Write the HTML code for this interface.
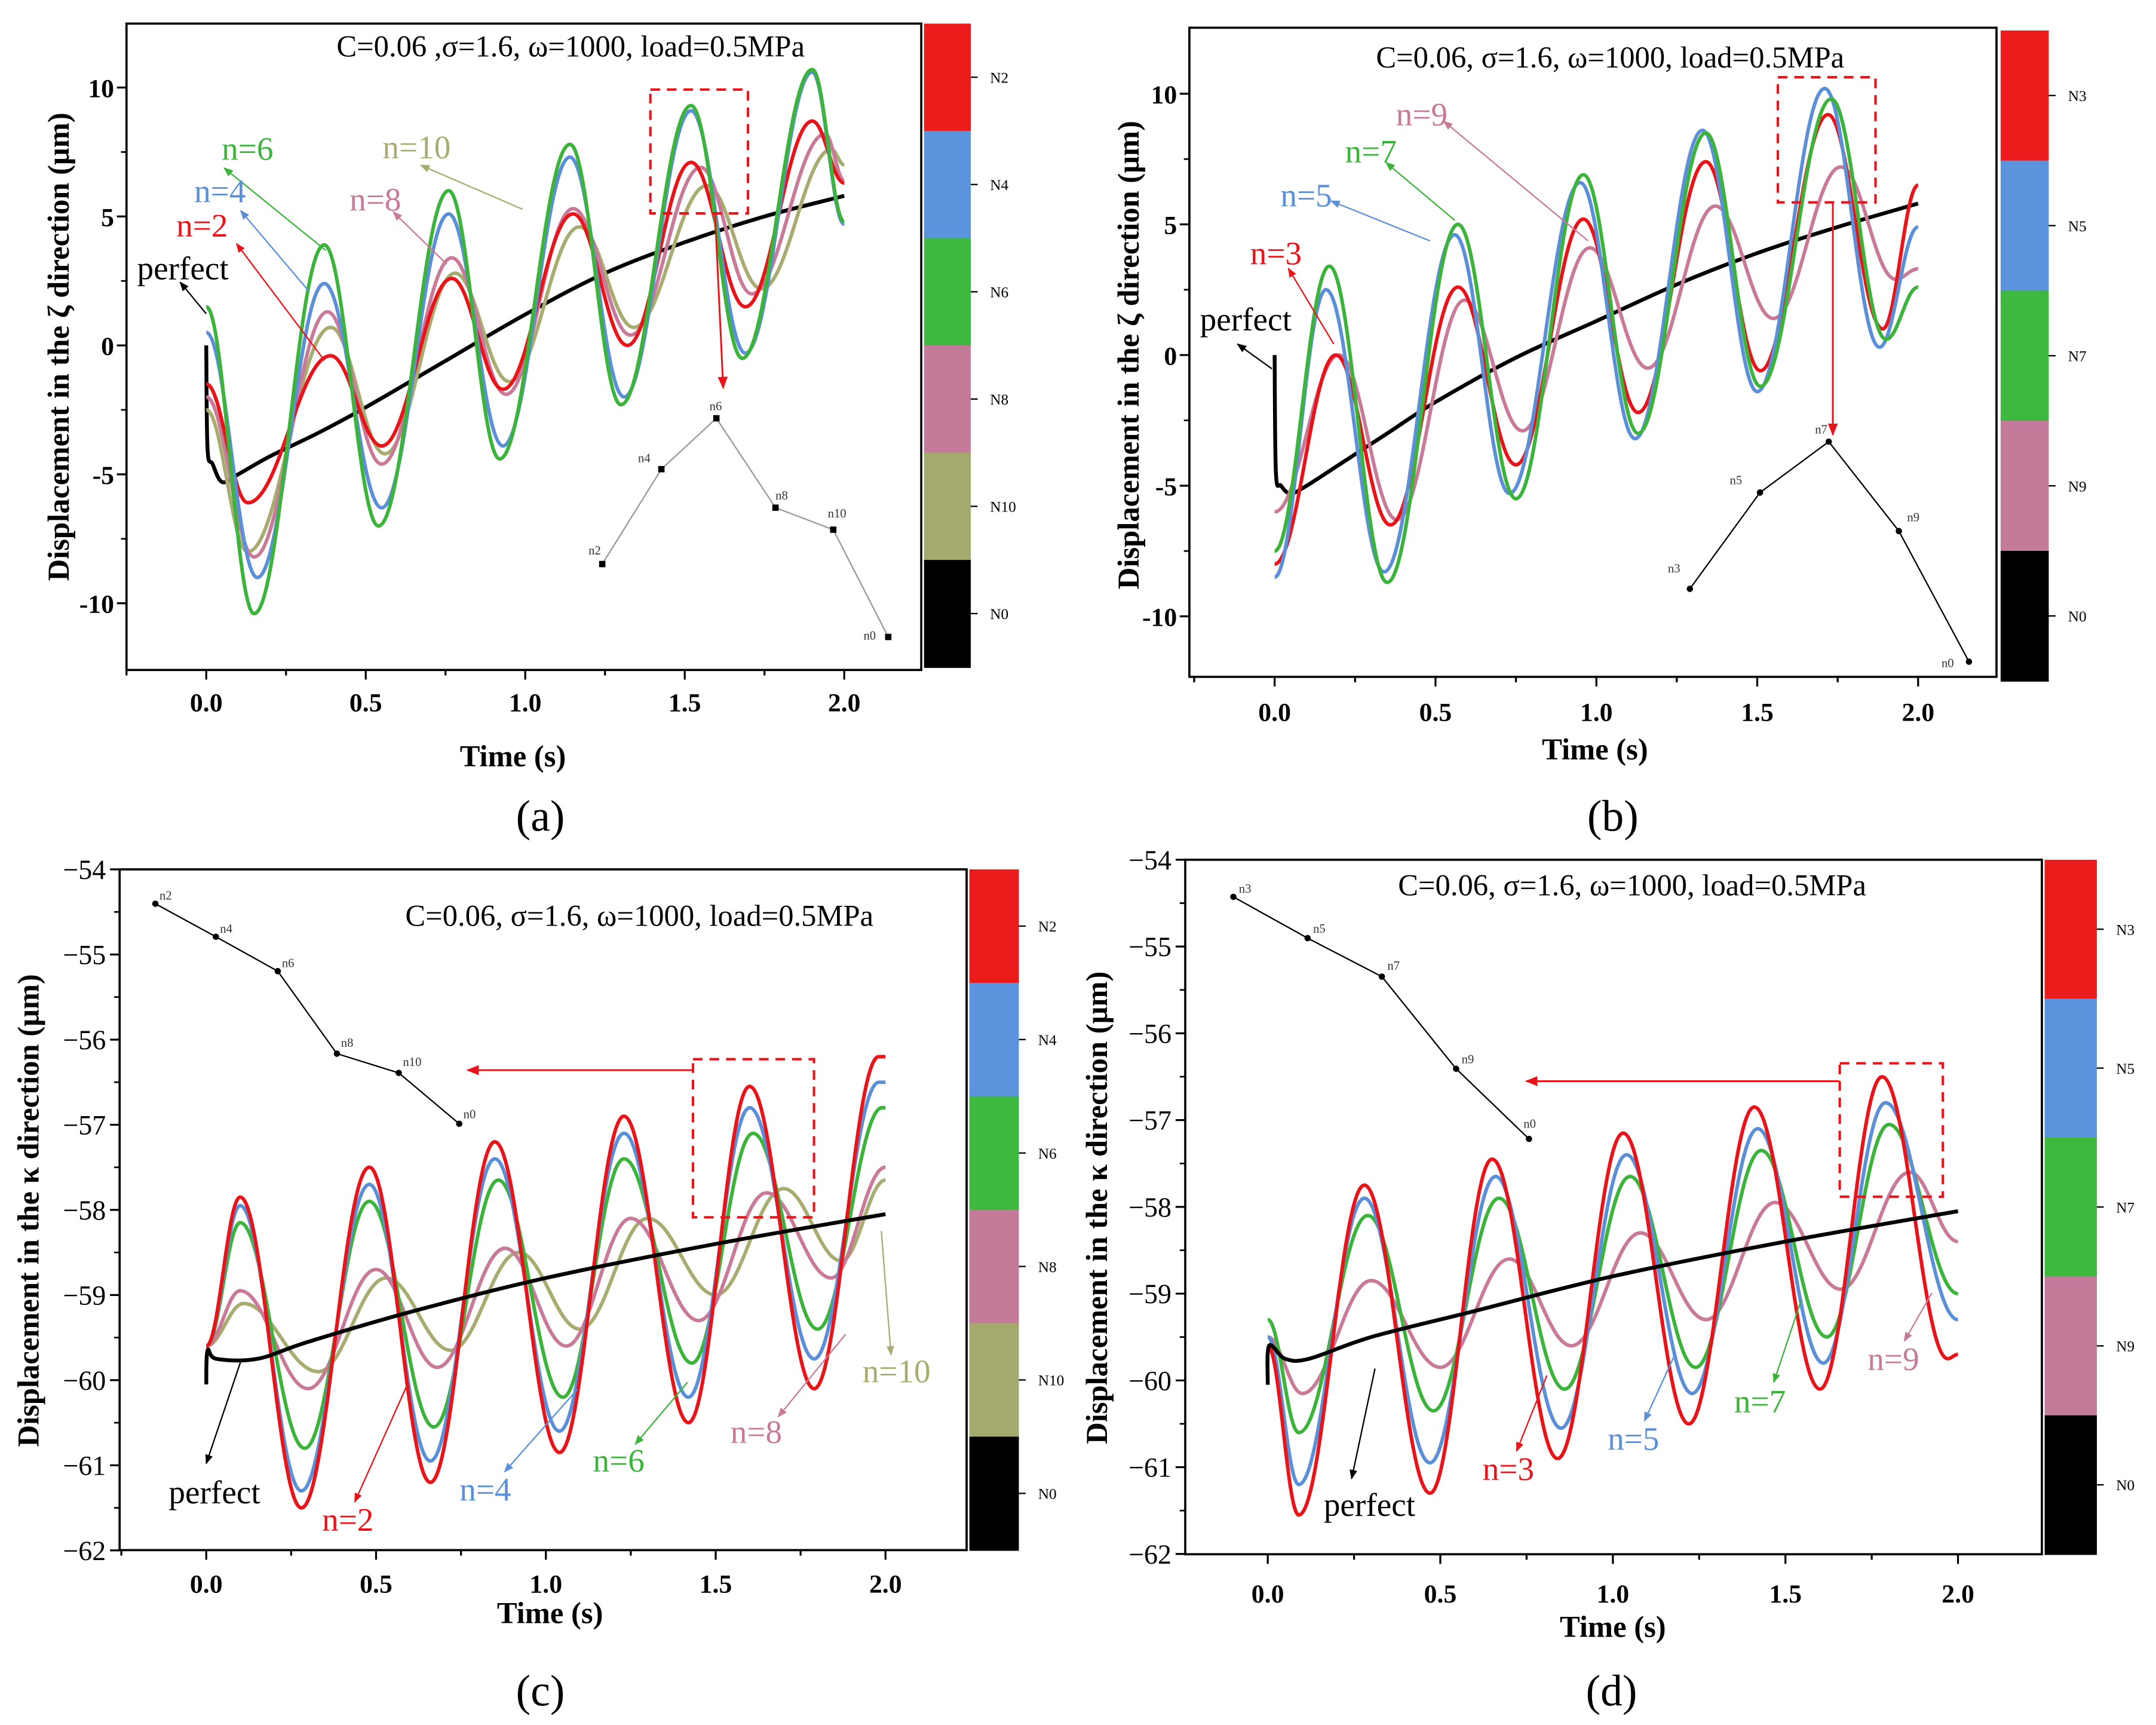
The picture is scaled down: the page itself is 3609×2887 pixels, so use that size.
<!DOCTYPE html>
<html><head><meta charset="utf-8"><style>
html,body{margin:0;padding:0;background:#fff;}
svg{display:block;}
text{font-family:"Liberation Serif",serif;}
.tk{font-weight:bold;font-size:19px;}
.tkc{font-size:20px;}
.tkcb{font-size:19px;font-weight:bold;}
.ax{font-weight:bold;font-size:22px;}
.ttl{font-size:22px;}
.lab{font-size:24px;}
.ins{font-size:9px;fill:#333;}
.cb{font-size:11px;}
</style></head><body>
<svg id="fig" xmlns="http://www.w3.org/2000/svg" width="3609" height="2887" viewBox="0 0 1568 1254">
<defs>
<marker id="ah" viewBox="0 0 10 10" refX="9" refY="5" markerWidth="7" markerHeight="7" orient="auto-start-reverse"><path d="M0,1 L10,5 L0,9 z" fill="context-stroke"/></marker>
<marker id="ahr" viewBox="0 0 10 10" refX="9" refY="5" markerWidth="7" markerHeight="7" orient="auto"><path d="M0,1 L10,5 L0,9 z" fill="#e8141a"/></marker>
</defs>
</svg>
<script>
// ---------- DATA ----------
const a_n6_t=[0,0.15,0.37,0.54,0.76,0.92,1.14,1.30,1.52,1.68,1.90,2.0];
const a_n6_v=[1.5,-10.4,3.9,-7.0,6.0,-4.4,7.8,-2.3,9.3,-0.5,10.7,4.8];
const a_n4_t=[0,0.16,0.37,0.55,0.76,0.93,1.14,1.31,1.52,1.69,1.90,2.0];
const a_n4_v=[0.5,-9.0,2.4,-6.3,5.1,-3.9,7.3,-2.0,9.1,-0.3,10.6,4.7];
const a_n2_t=[0,0.13,0.39,0.55,0.77,0.93,1.15,1.32,1.52,1.69,1.90,2.0];
const a_n2_v=[-1.5,-6.1,-0.4,-3.9,2.6,-1.7,5.1,0.0,7.1,1.5,8.7,6.3];
const a_n8_t=[0,0.15,0.38,0.55,0.77,0.94,1.15,1.33,1.55,1.71,1.94,2.0];
const a_n8_v=[-2.0,-8.2,1.3,-4.6,3.4,-1.9,5.3,0.4,6.9,2.0,8.2,6.4];
const a_n10_t=[0,0.13,0.39,0.56,0.78,0.95,1.17,1.34,1.57,1.74,1.96,2.0];
const a_n10_v=[-2.5,-8.0,0.7,-4.2,2.8,-1.4,4.6,0.7,6.2,2.2,7.6,7.0];
const a_pf_t=[0,0.004,0.02,0.05,0.1,0.2,0.35,0.5,0.75,1.0,1.25,1.5,1.75,2.0];
const a_pf_v=[0,-4.0,-4.6,-5.3,-5.0,-4.3,-3.4,-2.4,-0.6,1.2,2.8,4.0,5.0,5.8];
const a_ins_lab=["n2","n4","n6","n8","n10","n0"];
const b_n7_t=[0,0.17,0.35,0.57,0.75,0.96,1.13,1.34,1.51,1.73,1.90,2.0];
const b_n7_v=[-7.5,3.4,-8.7,5.0,-5.5,6.9,-3.0,8.5,-1.2,9.8,0.6,2.6];
const b_n5_t=[0,0.16,0.34,0.56,0.73,0.95,1.12,1.33,1.50,1.71,1.88,2.0];
const b_n5_v=[-8.5,2.5,-8.3,4.6,-5.3,6.6,-3.2,8.6,-1.4,10.2,0.3,4.9];
const b_n3_t=[0,0.19,0.36,0.57,0.75,0.96,1.13,1.34,1.51,1.72,1.89,2.0];
const b_n3_v=[-8.0,0.0,-6.5,2.6,-4.2,5.2,-2.2,7.4,-0.6,9.2,1.0,6.5];
const b_n9_t=[0,0.20,0.38,0.59,0.77,0.98,1.16,1.37,1.55,1.76,1.93,2.0];
const b_n9_v=[-6.0,0.0,-6.3,2.1,-2.9,4.1,-0.5,5.7,1.4,7.2,2.9,3.3];
const b_pf_t=[0,0.004,0.02,0.05,0.1,0.2,0.35,0.5,0.75,1.0,1.25,1.5,1.75,2.0];
const b_pf_v=[0,-4.5,-5.0,-5.3,-5.0,-4.2,-3.0,-1.8,-0.1,1.3,2.7,3.9,4.9,5.8];
const b_ins_lab=["n3","n5","n7","n9","n0"];
const c_n2_t=[0,0.10,0.28,0.48,0.66,0.85,1.04,1.23,1.42,1.60,1.79,1.98,2.0];
const c_n2_v=[-59.6,-57.85,-61.5,-57.5,-61.2,-57.2,-60.85,-56.9,-60.5,-56.55,-60.1,-56.2,-56.2];
const c_n4_t=[0,0.10,0.28,0.48,0.66,0.85,1.04,1.23,1.42,1.60,1.79,1.98,2.0];
const c_n4_v=[-59.6,-57.95,-61.3,-57.7,-60.95,-57.4,-60.6,-57.1,-60.2,-56.8,-59.75,-56.5,-56.5];
const c_n6_t=[0,0.10,0.29,0.48,0.67,0.86,1.05,1.23,1.43,1.61,1.80,1.99,2.0];
const c_n6_v=[-59.6,-58.15,-60.8,-57.9,-60.55,-57.65,-60.2,-57.4,-59.8,-57.1,-59.4,-56.8,-56.8];
const c_n8_t=[0,0.10,0.30,0.50,0.68,0.88,1.06,1.25,1.45,1.65,1.84,2.0];
const c_n8_v=[-59.6,-58.95,-60.1,-58.7,-59.85,-58.45,-59.6,-58.1,-59.3,-57.8,-58.8,-57.5];
const c_n10_t=[0,0.11,0.33,0.53,0.72,0.92,1.10,1.30,1.50,1.70,1.87,2.0];
const c_n10_v=[-59.6,-59.1,-59.9,-58.8,-59.65,-58.5,-59.4,-58.1,-59.0,-57.75,-58.6,-57.65];
const c_pf_t=[0,0.004,0.03,0.15,0.3,0.6,1.0,1.5,2.0];
const c_pf_v=[-60.05,-59.65,-59.75,-59.75,-59.55,-59.2,-58.8,-58.4,-58.05];
const c_ins_lab=["n2","n4","n6","n8","n10","n0"];
const d_n3_t=[0,0.09,0.28,0.47,0.65,0.84,1.03,1.22,1.41,1.60,1.78,1.97,2.0];
const d_n3_v=[-59.6,-61.55,-57.75,-61.3,-57.45,-60.9,-57.15,-60.5,-56.85,-60.1,-56.5,-59.75,-59.7];
const d_n5_t=[0,0.09,0.28,0.47,0.66,0.85,1.04,1.23,1.42,1.61,1.79,2.0];
const d_n5_v=[-59.5,-61.2,-57.9,-60.95,-57.65,-60.55,-57.4,-60.15,-57.1,-59.8,-56.8,-59.3];
const d_n7_t=[0,0.09,0.29,0.48,0.67,0.86,1.05,1.24,1.43,1.62,1.80,2.0];
const d_n7_v=[-59.3,-60.6,-58.1,-60.35,-57.9,-60.1,-57.65,-59.85,-57.35,-59.5,-57.05,-59.0];
const d_n9_t=[0,0.10,0.30,0.50,0.70,0.88,1.08,1.27,1.47,1.66,1.86,2.0];
const d_n9_v=[-59.5,-60.15,-58.85,-59.85,-58.6,-59.6,-58.3,-59.3,-57.95,-58.95,-57.6,-58.4];
const d_pf_t=[0,0.004,0.05,0.12,0.3,0.6,1.0,1.5,2.0];
const d_pf_v=[-60.05,-59.6,-59.75,-59.75,-59.5,-59.2,-58.8,-58.4,-58.05];
const d_ins_lab=["n3","n5","n7","n9","n0"];
const xTicks=[0,0.5,1.0,1.5,2.0];
const xTickLabels=["0.0","0.5","1.0","1.5","2.0"];
const zTicks=[10,5,0,-5,-10];
const zTickLabels=["10","5","0","-5","-10"];
const kTicks=[-54,-55,-56,-57,-58,-59,-60,-61,-62];
const kTickLabels=["\u221254","\u221255","\u221256","\u221257","\u221258","\u221259","\u221260","\u221261","\u221262"];

// ---------- DRAWING ----------
const NS='http://www.w3.org/2000/svg';
const svg=document.getElementById('fig');
const RED='#e8141a',BLUE='#5b8fd8',GREEN='#3cb43c',PINK='#c87a98',OLIVE='#a8ac70',BLK='#000';
function mk(tag,parent){const e=document.createElementNS(NS,tag);parent.appendChild(e);return e;}
function sa(e,o){for(const k in o)e.setAttribute(k,o[k]);return e;}
function oscPath(ts,vs,X,Y){let d='M'+X(ts[0]).toFixed(1)+','+Y(vs[0]).toFixed(1);
 for(let i=1;i<ts.length;i++){const x0=X(ts[i-1]),y0=Y(vs[i-1]),x1=X(ts[i]),y1=Y(vs[i]);const h=(x1-x0)*0.38;
  d+=' C'+(x0+h).toFixed(1)+','+y0.toFixed(1)+' '+(x1-h).toFixed(1)+','+y1.toFixed(1)+' '+x1.toFixed(1)+','+y1.toFixed(1);}
 return d;}
function crPath(ts,vs,X,Y){const p=ts.map((t,i)=>[X(t),Y(vs[i])]);let d='M'+p[0][0]+','+p[0][1];
 for(let i=0;i<p.length-1;i++){const p0=p[Math.max(0,i-1)],p1=p[i],p2=p[i+1],p3=p[Math.min(p.length-1,i+2)];
  d+=' C'+(p1[0]+(p2[0]-p0[0])/6)+','+(p1[1]+(p2[1]-p0[1])/6)+' '+(p2[0]-(p3[0]-p1[0])/6)+','+(p2[1]-(p3[1]-p1[1])/6)+' '+p2[0]+','+p2[1];}
 return d;}
function txt(parent,x,y,s,cls,extra){const t=mk('text',parent);sa(t,{x:x,y:y,'class':cls||''});if(extra)sa(t,extra);t.textContent=s;return t;}

function panel(P){
 const g=mk('g',svg);
 
 
 const X=t=>P.tx0+t*P.tk, Y=v=>P.vy0+(P.v0-v)*P.vk;
 P.series.forEach(s=>{const p=mk('path',g);
  sa(p,{d:s.osc?oscPath(s.t,s.v,X,Y):crPath(s.t,s.v,X,Y),fill:'none',stroke:s.c,'stroke-width':s.w||2.6,'stroke-linejoin':'round'});
  
  });
 const fr=mk('rect',g);sa(fr,{x:P.L,y:P.T,width:P.R-P.L,height:P.B-P.T,fill:'none',stroke:'#000','stroke-width':1.6});
 
 
 const xa=mk('g',g);
 
 
 for(let t=-0.25;t<=2.26;t+=0.25){const x=X(t);if(x<P.L-1||x>P.R+1)continue;const maj=Math.abs(t*2-Math.round(t*2))<1e-6;
  const l=mk('line',xa);sa(l,{x1:x,x2:x,y1:P.B,y2:P.B+(maj?7:4),stroke:'#000','stroke-width':1.4});}
 xTicks.forEach((t,i)=>{const tt=txt(xa,X(t),P.B+P.xlo,xTickLabels[i],P.xtkc,{'text-anchor':'middle'});
  
  });
 const ya=mk('g',g);
 
 
 P.yt.forEach((v,i)=>{const y=Y(v);const l=mk('line',ya);sa(l,{x1:P.L-7,x2:P.L,y1:y,y2:y,stroke:'#000','stroke-width':1.4});
  if(i<P.yt.length-1){const ym=Y((v+P.yt[i+1])/2);const m=mk('line',ya);sa(m,{x1:P.L-4,x2:P.L,y1:ym,y2:ym,stroke:'#000','stroke-width':1.2});}
  const tt=txt(ya,P.L-P.ylo,y+7,P.ytl[i],P.tkc,{'text-anchor':'end'});
  
  });
 const xt=txt(g,P.xtitle[0],P.xtitle[1],'Time (s)','ax',{'text-anchor':'middle'});
 
 
 const yt=txt(g,0,0,P.ytext,'ax',{'text-anchor':'middle',transform:'translate('+P.ytitle[0]+','+P.ytitle[1]+') rotate(-90)'});
 
 
 const ti=txt(g,P.title[0],P.title[1],P.ttext,'ttl',{'text-anchor':'middle'});
 
 
 const pl=txt(g,P.plab[0],P.plab[1],P.plabt,'',{'text-anchor':'middle','font-size':32});
 
 
 const cb=mk('g',g);
 
 
 const n=P.cb.length, h=(P.cbB-P.cbT)/n;
 P.cb.forEach((c,i)=>{const r=mk('rect',cb);sa(r,{x:P.cbL,y:P.cbT+i*h,width:P.cbW,height:h+0.5,fill:c[1]});
  
  
  const l=mk('line',cb);sa(l,{x1:P.cbL+P.cbW,x2:P.cbL+P.cbW+5,y1:P.cbT+(i+0.5)*h,y2:P.cbT+(i+0.5)*h,stroke:'#000'});
  txt(cb,P.cbL+P.cbW+14,P.cbT+(i+0.5)*h+4,c[0],'cb');});
 const ins=mk('g',g);
 
 
 const pl2=mk('polyline',ins);sa(pl2,{points:P.ins.map(p=>p.join(',')).join(' '),fill:'none',stroke:P.insc,'stroke-width':1});
 P.ins.forEach((p,i)=>{const r=mk(P.insDot?'circle':'rect',ins);
  if(P.insDot)sa(r,{cx:p[0],cy:p[1],r:2.3,fill:'#000'});else sa(r,{x:p[0]-2.3,y:p[1]-2.3,width:4.6,height:4.6,fill:'#000'});
  txt(ins,p[0]+P.insOff[i][0],p[1]+P.insOff[i][1],P.insLab[i],'ins');});
 const bx=mk('rect',g);sa(bx,{x:P.box[0],y:P.box[1],width:P.box[2],height:P.box[3],fill:'none',stroke:RED,'stroke-width':1.8,'stroke-dasharray':'7,5'});
 
 
 const ar=mk('line',g);sa(ar,{x1:P.barr[0],y1:P.barr[1],x2:P.barr[2],y2:P.barr[3],stroke:RED,'stroke-width':1.3,'marker-end':'url(#ahr)'});
 
 
 P.labels.forEach(L=>{const a=mk('line',g);sa(a,{x1:L.a[0],y1:L.a[1],x2:L.a[2],y2:L.a[3],stroke:L.c,'stroke-width':1,'marker-end':'url(#ah)'});
  const t=txt(g,L.x,L.y,L.s,'lab',{fill:L.c,'text-anchor':'middle'});
  
  });
}
const cb6=[['N2','#ec1c1c'],['N4','#5b93dd'],['N6','#3eb83e'],['N8','#c47b9a'],['N10','#a3aa6c'],['N0','#000']];
const cb5=[['N3','#ec1c1c'],['N5','#5b93dd'],['N7','#3eb83e'],['N9','#c47b9a'],['N0','#000']];

panel({name:'panel-a',L:92,R:670,T:17,B:487,tx0:150,tk:232,vy0:251,v0:0,vk:18.75,tkc:'tk',xtkc:'tk',xlo:30,ylo:9,
 yt:zTicks,ytl:zTickLabels,xtitle:[373,557],ytitle:[50,252],ytext:'Displacement in the \u03b6 direction  (\u03bcm)',
 title:[415,41],ttext:'C=0.06 ,\u03c3=1.6, \u03c9=1000, load=0.5MPa',plab:[393,604],plabt:'(a)',
 cb:cb6,cbL:672,cbT:17,cbB:485,cbW:34,
 ins:[[438,410],[481,341],[521,304],[564,369],[606,385],[646,463]],insLab:a_ins_lab,insc:'#999',insDot:false,
 insOff:[[-10,-7],[-17,-5],[-5,-6],[0,-6],[-4,-9],[-18,2]],
 box:[473,65,71,90],barr:[520,155,526,282],
 series:[
  {nm:'series-perfect',t:a_pf_t,v:a_pf_v,c:BLK,w:2.8},
  {nm:'series-n10',t:a_n10_t,v:a_n10_v,c:OLIVE,osc:1},
  {nm:'series-n8',t:a_n8_t,v:a_n8_v,c:PINK,osc:1},
  {nm:'series-n2',t:a_n2_t,v:a_n2_v,c:RED,osc:1},
  {nm:'series-n4',t:a_n4_t,v:a_n4_v,c:BLUE,osc:1},
  {nm:'series-n6',t:a_n6_t,v:a_n6_v,c:GREEN,osc:1}],
 labels:[
  {s:'n=6',x:180,y:116,c:GREEN,a:[237,182,163,122]},
  {s:'n=4',x:160,y:147,c:BLUE,a:[225,212,175,153]},
  {s:'n=2',x:147,y:172,c:RED,a:[236,262,172,177]},
  {s:'perfect',x:133,y:203,c:BLK,a:[150,228,131,205]},
  {s:'n=8',x:273,y:153,c:PINK,a:[325,192,286,154]},
  {s:'n=10',x:303,y:115,c:OLIVE,a:[380,152,306,120]}]});

panel({name:'panel-b',L:865,R:1452,T:20,B:492,tx0:927,tk:234,vy0:258,v0:0,vk:19,tkc:'tk',xtkc:'tk',xlo:32,ylo:9,
 yt:zTicks,ytl:zTickLabels,xtitle:[1160,552],ytitle:[828,258],ytext:'Displacement in the \u03b6 direction  (\u03bcm)',
 title:[1171,49],ttext:'C=0.06, \u03c3=1.6, \u03c9=1000, load=0.5MPa',plab:[1173,604],plabt:'(b)',
 cb:cb5,cbL:1455,cbT:22,cbB:495,cbW:35,
 ins:[[1229,428],[1280,358],[1330,321],[1381,386],[1432,481]],insLab:b_ins_lab,insc:'#000',insDot:true,
 insOff:[[-16,-12],[-22,-6],[-10,-6],[6,-7],[-20,4]],
 box:[1293,56,71,91],barr:[1333,147,1333,316],
 series:[
  {nm:'series-perfect',t:b_pf_t,v:b_pf_v,c:BLK,w:2.8},
  {nm:'series-n9',t:b_n9_t,v:b_n9_v,c:PINK,osc:1},
  {nm:'series-n3',t:b_n3_t,v:b_n3_v,c:RED,osc:1},
  {nm:'series-n5',t:b_n5_t,v:b_n5_v,c:BLUE,osc:1},
  {nm:'series-n7',t:b_n7_t,v:b_n7_v,c:GREEN,osc:1}],
 labels:[
  {s:'n=9',x:1034,y:91,c:PINK,a:[1155,175,1050,88]},
  {s:'n=7',x:997,y:118,c:GREEN,a:[1058,160,1008,118]},
  {s:'n=5',x:950,y:150,c:BLUE,a:[1040,175,968,146]},
  {s:'n=3',x:928,y:192,c:RED,a:[970,250,937,195]},
  {s:'perfect',x:906,y:240,c:BLK,a:[925,268,900,250]}]});

panel({name:'panel-c',L:87,R:703,T:632,B:1127,tx0:150,tk:247,vy0:632,v0:-54,vk:61.9,tkc:'tkc',xtkc:'tkcb',xlo:31,ylo:10,
 yt:kTicks,ytl:kTickLabels,xtitle:[400,1180],ytitle:[28,880],ytext:'Displacement in the \u03ba direction (\u03bcm)',
 title:[465,673],ttext:'C=0.06, \u03c3=1.6, \u03c9=1000, load=0.5MPa',plab:[393,1240],plabt:'(c)',
 cb:cb6,cbL:705,cbT:632,cbB:1127,cbW:36,
 ins:[[113,657],[157,681],[202,706],[245,766],[290,780],[334,817]],insLab:c_ins_lab,insc:'#000',insDot:true,
 insOff:[[3,-3],[3,-3],[3,-3],[3,-5],[3,-5],[3,-4]],
 box:[504,770,88,115],barr:[504,778,340,778],
 series:[
  {nm:'series-n10',t:c_n10_t,v:c_n10_v,c:OLIVE,osc:1},
  {nm:'series-n8',t:c_n8_t,v:c_n8_v,c:PINK,osc:1},
  {nm:'series-n6',t:c_n6_t,v:c_n6_v,c:GREEN,osc:1},
  {nm:'series-n4',t:c_n4_t,v:c_n4_v,c:BLUE,osc:1},
  {nm:'series-n2',t:c_n2_t,v:c_n2_v,c:RED,osc:1},
  {nm:'series-perfect',t:c_pf_t,v:c_pf_v,c:BLK,w:2.8}],
 labels:[
  {s:'perfect',x:156,y:1093,c:BLK,a:[175,990,150,1064]},
  {s:'n=2',x:253,y:1113,c:RED,a:[297,1005,258,1092]},
  {s:'n=4',x:353,y:1091,c:BLUE,a:[420,1010,367,1070]},
  {s:'n=6',x:450,y:1070,c:GREEN,a:[500,1005,462,1050]},
  {s:'n=8',x:550,y:1049,c:PINK,a:[615,970,566,1030]},
  {s:'n=10',x:652,y:1005,c:OLIVE,a:[641,895,648,985]}]});

panel({name:'panel-d',L:862,R:1485,T:625,B:1130,tx0:922,tk:251,vy0:625,v0:-54,vk:63.1,tkc:'tkc',xtkc:'tkcb',xlo:35,ylo:10,
 yt:kTicks,ytl:kTickLabels,xtitle:[1173,1190],ytitle:[805,878],ytext:'Displacement in the  \u03ba  direction (\u03bcm)',
 title:[1187,651],ttext:'C=0.06, \u03c3=1.6, \u03c9=1000, load=0.5MPa',plab:[1172,1240],plabt:'(d)',
 cb:cb5,cbL:1487,cbT:625,cbB:1130,cbW:38,
 ins:[[897,652],[951,682],[1005,710],[1059,777],[1112,828]],insLab:d_ins_lab,insc:'#000',insDot:true,
 insOff:[[4,-3],[4,-4],[4,-5],[4,-4],[-4,-8]],
 box:[1338,773,75,97],barr:[1338,786,1110,786],
 series:[
  {nm:'series-n9',t:d_n9_t,v:d_n9_v,c:PINK,osc:1},
  {nm:'series-n7',t:d_n7_t,v:d_n7_v,c:GREEN,osc:1},
  {nm:'series-n5',t:d_n5_t,v:d_n5_v,c:BLUE,osc:1},
  {nm:'series-n3',t:d_n3_t,v:d_n3_v,c:RED,osc:1},
  {nm:'series-perfect',t:d_pf_t,v:d_pf_v,c:BLK,w:2.8}],
 labels:[
  {s:'perfect',x:996,y:1102,c:BLK,a:[1000,995,983,1075]},
  {s:'n=3',x:1097,y:1076,c:RED,a:[1125,1000,1103,1055]},
  {s:'n=5',x:1188,y:1054,c:BLUE,a:[1218,985,1196,1033]},
  {s:'n=7',x:1280,y:1027,c:GREEN,a:[1310,945,1290,1005]},
  {s:'n=9',x:1377,y:996,c:PINK,a:[1405,940,1385,975]}]});
</script>
</body></html>
